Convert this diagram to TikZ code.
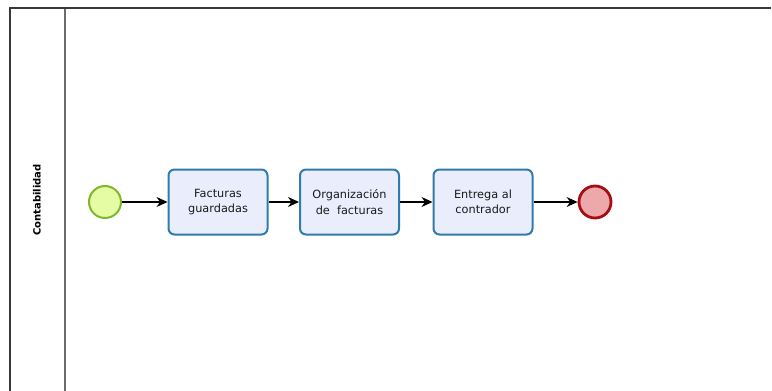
\documentclass[tikz,border=0pt]{standalone}
\usepackage{fontspec}
\setmainfont{DejaVu Sans}
\usetikzlibrary{arrows.meta}
\definecolor{taskfill}{HTML}{EAEEFC}
\definecolor{taskline}{HTML}{2F7BAA}
\definecolor{startfill}{HTML}{E5FCA4}
\definecolor{startline}{HTML}{7CB82A}
\definecolor{endfill}{HTML}{EDA8AA}
\definecolor{endline}{HTML}{A30F14}
\tikzset{
  task/.style={draw=taskline, fill=taskfill, line width=2pt, rounded corners=6pt,
    minimum width=99pt, minimum height=65pt, align=center, inner sep=2pt,
    font=\fontsize{11.3}{15.5}\selectfont, text=black!90},
  startev/.style={circle, draw=startline, fill=startfill, line width=2pt, minimum size=32pt, inner sep=0pt},
  endev/.style={circle, draw=endline, fill=endfill, line width=2.8pt, minimum size=32pt, inner sep=0pt},
  flow/.style={-{Stealth[length=11pt,width=10pt]}, line width=1.1pt, black},
  poolline/.style={line width=2.2pt, draw=black!78},
}
\begin{document}
\begin{tikzpicture}[x=1pt, y=-1pt]
\useasboundingbox (0,0) rectangle (772,391);
% pool outline and lane header
\draw[poolline] (10,395) -- (10,8) -- (771,8);
\draw[line width=2.2pt, draw=black!58] (65,9) -- (65,395);
\node[rotate=90, font=\bfseries\fontsize{10}{12}\selectfont] (lane) at (37,200) {Contabilidad};
% events and tasks
\node[startev] (start) at (105,202) {};
\node[task] (t1) at (218,202) {Facturas\\guardadas};
\node[task] (t2) at (349.5,202) {Organización\\de\ \ facturas};
\node[task] (t3) at (483,202) {Entrega al\\contrador};
\node[endev] (end) at (595,202) {};
% sequence flows
\draw[flow] (start) -- (t1);
\draw[flow] (t1) -- (t2);
\draw[flow] (t2) -- (t3);
\draw[flow] (t3) -- (end);
\end{tikzpicture}
\end{document}
